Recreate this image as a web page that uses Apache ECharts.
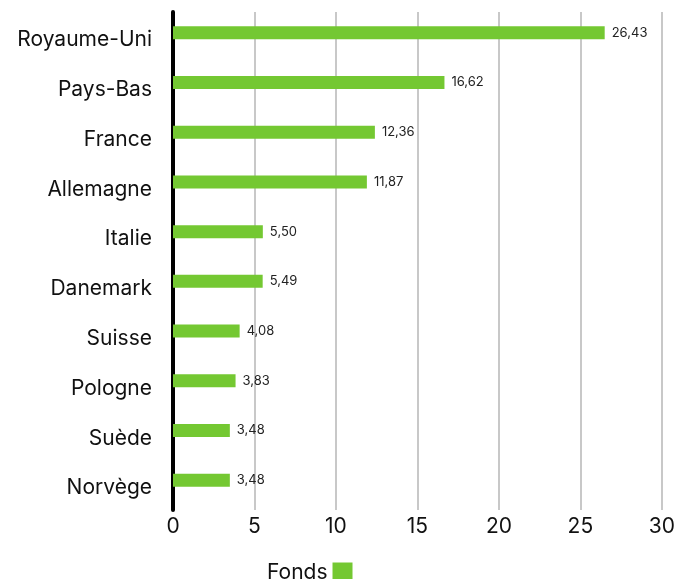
<!DOCTYPE html>
<html><head><meta charset="utf-8">
<script src="https://cdn.jsdelivr.net/npm/echarts@6/dist/echarts.min.js"></script>
<style>html,body{margin:0;padding:0;background:#fff}#c{width:678px;height:579px}</style>
</head><body><div id="c"></div>
<script>
const categories = ['Royaume-Uni','Pays-Bas','France','Allemagne','Italie','Danemark','Suisse','Pologne','Suède','Norvège'];
const fonds = [26.43,16.62,12.36,11.87,5.50,5.49,4.08,3.83,3.48,3.48];
const xTicks = [0,5,10,15,20,25,30];
const FONT = 'Inter';
const chart = echarts.init(document.getElementById('c'));
chart.setOption({
  animation:false,
  textStyle:{fontFamily:FONT},
  legend:{data:['Fonds'],bottom:-9,left:262,align:'right',icon:'rect',itemWidth:20,itemHeight:20,itemGap:8,
    textStyle:{fontFamily:FONT,fontSize:21,color:'#111'}},
  grid:[
    {left:173,right:15,top:8,height:497},
    {left:173,right:15,top:12,bottom:69},
    {left:173,right:15,top:15,height:498}
  ],
  xAxis:[
    {gridIndex:0,type:'value',min:0,max:30,interval:5,show:false},
    {gridIndex:1,type:'value',min:0,max:30,interval:5,
     axisLine:{show:false},axisTick:{show:false},
     axisLabel:{fontFamily:FONT,fontSize:21,color:'#111',margin:6,
       formatter:v=>String(v)},
     splitLine:{show:true,lineStyle:{color:'#c8c8c8',width:2}}},
    {gridIndex:2,type:'value',min:0,max:30,interval:5,show:false}
  ],
  yAxis:[
    {gridIndex:0,type:'category',data:categories,inverse:true,show:false},
    {gridIndex:1,type:'category',data:categories,inverse:true,
     axisLine:{show:true,lineStyle:{color:'#000',width:4}},axisTick:{show:false},axisLabel:{show:false}},
    {gridIndex:2,type:'category',data:categories,inverse:true,
     axisLine:{show:false},axisTick:{show:false},splitLine:{show:false},
     axisLabel:{fontFamily:FONT,fontSize:21,color:'#111',margin:21}}
  ],
  series:[{
    name:'Fonds',type:'bar',xAxisIndex:0,yAxisIndex:0,data:fonds,barWidth:13,
    itemStyle:{color:'#74c832'},
    label:{show:true,position:'right',distance:7,fontFamily:FONT,fontSize:13,color:'#222',
      formatter:p=>p.value.toFixed(2).replace('.',',')}
  }]
});
</script></body></html>
